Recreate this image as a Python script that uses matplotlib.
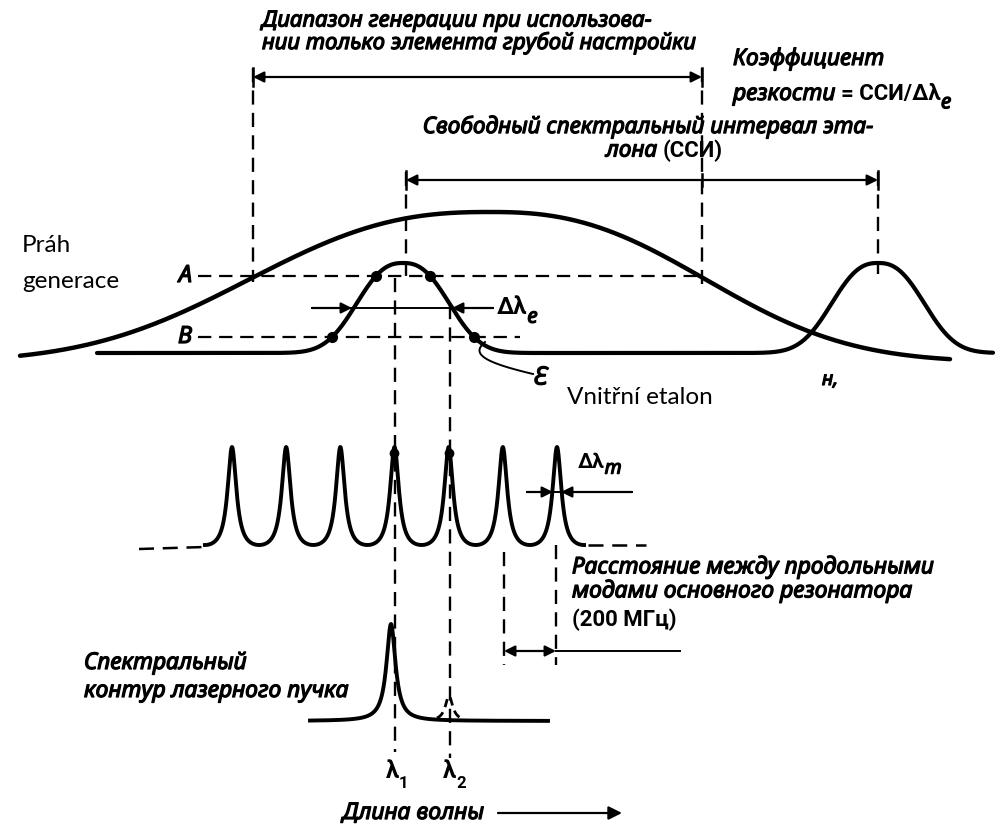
import numpy as np
import matplotlib
matplotlib.use("Agg")
import matplotlib.pyplot as plt
import matplotlib.patheffects as pe

# ---------------- data (diagram units = reference pixels) ----------------
coarse_peak = 490
coarse_top = 212
coarse_base = 362
coarse_widths = [296, 265]          # left / right half-widths of gain envelope
coarse_range = [20, 950]

etalon_peaks = [403, 878]
etalon_top = 263
etalon_base = 353
etalon_width = 57
etalon_range = [97, 993]

mode_positions = [232, 286, 340, 394, 449, 503, 557]
mode_top = 447
mode_base = 545
mode_finesse_F = 10.0

laser_lines = [391, 449]
laser_tops = [624, 696]
laser_base = 721
laser_range = [310, 548]

level_A = 276
level_B = 337

W, H = 1002, 832
fig = plt.figure(figsize=(W / 100, H / 100), dpi=100)
ax = fig.add_axes([0, 0, 1, 1])
ax.set_xlim(0, W)
ax.set_ylim(H, 0)
ax.axis("off")

BOLD = [pe.withStroke(linewidth=0.9, foreground="black")]
RU = dict(family=["Noto Sans", "DejaVu Sans"], style="italic", weight="bold", path_effects=BOLD)
UP = dict(family=["Roboto", "DejaVu Sans"], weight="bold")
CZ = dict(family=["Lato", "DejaVu Sans"])
K = "black"
DASH = (0, (6, 3.5))


def sgauss(x, c, w, p=2.5):
    return np.exp(-(np.abs(x - c) / w) ** p)


# ---------------- broad gain envelope ----------------
xc = np.linspace(*coarse_range, 600)
wc = np.where(xc < coarse_peak, coarse_widths[0], coarse_widths[1])
yc = coarse_base - (coarse_base - coarse_top) * sgauss(xc, coarse_peak, wc)
ax.plot(xc, yc, color=K, lw=3.2, solid_capstyle="round")

# ---------------- etalon transmission ----------------
xe = np.linspace(*etalon_range, 1200)
ye = etalon_base - (etalon_base - etalon_top) * sum(sgauss(xe, c, etalon_width) for c in etalon_peaks)
ax.plot(xe, ye, color=K, lw=3.0, solid_capstyle="round")

# dots where A and B levels cut the central etalon peak
for lev in (level_A, level_B):
    m = (xe > etalon_peaks[0] - 120) & (xe < etalon_peaks[0])
    xl = np.interp(lev, ye[m][::-1], xe[m][::-1])
    m2 = (xe > etalon_peaks[0]) & (xe < etalon_peaks[0] + 120)
    xr = np.interp(lev, ye[m2], xe[m2])
    ax.plot([xl, xr], [lev, lev], "o", color=K, ms=7)

# threshold levels
ax.plot([198, 703], [level_A, level_A], color=K, lw=1.6, ls=DASH)
ax.plot([198, 520], [level_B, level_B], color=K, lw=1.6, ls=DASH)
ax.text(192, level_A, "A", ha="right", va="center", fontsize=17, **RU)
ax.text(192, level_B, "B", ha="right", va="center", fontsize=17, **RU)

# ---------------- longitudinal modes (Airy comb) ----------------
d = np.mean(np.diff(mode_positions))
xm = np.linspace(mode_positions[0] - d / 2, mode_positions[-1] + d / 2, 1500)
T = 1.0 / (1.0 + mode_finesse_F * np.sin(np.pi * (xm - mode_positions[0]) / d) ** 2)
Tmin = 1.0 / (1.0 + mode_finesse_F)
ym = mode_base - (mode_base - mode_top) * (T - Tmin) / (1 - Tmin)
ax.plot(xm, ym, color=K, lw=2.8)
ax.plot([139, mode_positions[0] - d / 2], [549, mode_base + 2], color=K, lw=1.8, ls=DASH)
ax.plot([mode_positions[-1] + d / 2 + 4, 646], [mode_base, mode_base], color=K, lw=1.8, ls=DASH)
for p in mode_positions[3:5]:
    ax.plot([p], [mode_top + 6], marker="o", ms=6, color=K)

# ---------------- output laser spectrum ----------------
xl_ = np.linspace(*laser_range, 800)
yl_ = laser_base - (laser_base - laser_tops[0]) / (1 + ((xl_ - laser_lines[0]) / 5.5) ** 2)
ax.plot(xl_, yl_, color=K, lw=2.8)
xb = np.linspace(laser_lines[1] - 12, laser_lines[1] + 12, 100)
yb = laser_base - (laser_base - laser_tops[1]) / (1 + ((xb - laser_lines[1]) / 4.5) ** 2)
ax.plot(xb, yb, color=K, lw=2.0, ls=(0, (3, 2)))

# ---------------- vertical dashed guides ----------------
guides = [(253, 68, 282), (702, 68, 284), (406, 172, 280), (878, 172, 274),
          (395, 278, 752), (450, 305, 758), (504, 552, 665), (556, 545, 665)]
for x, y0, y1 in guides:
    ax.plot([x, x], [y0, y1], color=K, lw=1.7, ls=DASH)

# ---------------- arrows ----------------
def arrow(x0, y0, x1, y1, style="-|>", lw=1.6, ms=16):
    ax.annotate("", xy=(x1, y1), xytext=(x0, y0),
                arrowprops=dict(arrowstyle=style, color=K, lw=lw, shrinkA=0, shrinkB=0,
                                mutation_scale=ms))

def bar(x, y, h=9):
    ax.plot([x, x], [y - h, y + h], color=K, lw=1.8)

# coarse tuning range
arrow(253, 77, 702, 77, "<|-|>")
bar(253, 77); bar(702, 77)
# free spectral range
arrow(406, 180, 878, 180, "<|-|>")
bar(406, 180); bar(878, 180); bar(702, 180, 6)
# etalon width
ax.plot([312, 493], [308, 308], color=K, lw=1.4)
arrow(312, 308, 352, 308); arrow(493, 308, 452, 308)
# mode width
ax.plot([527, 632], [492, 492], color=K, lw=1.4)
arrow(527, 492, 553, 492); arrow(632, 492, 561, 492)
# mode spacing
arrow(504, 651, 556, 651, "<|-|>")
ax.plot([556, 680], [651, 651], color=K, lw=1.4)
# wavelength axis
arrow(498, 813, 622, 813, ms=20)

# leader for etalon label
t = np.linspace(0, 1, 50)
ax.plot(485 - 12 * np.sin(np.pi * t) + 48 * t ** 2, 342 + 32 * t, color=K, lw=1.4)

# ---------------- text ----------------
def chain(prev, s, size, dy=0.5, **kw):
    return ax.annotate(s, xy=(1, dy), xycoords=prev, va="center", ha="left", fontsize=size, **kw)

ax.text(262, 21, "Диапазон генерации при использова-", fontsize=16, va="center", **RU)
ax.text(262, 43, "нии только элемента грубой настройки", fontsize=16, va="center", **RU)

ax.text(733, 59, "Коэффициент", fontsize=16.5, va="center", **RU)
t1 = ax.text(733, 94, "резкости ", fontsize=16.5, va="center", **RU)
t2 = chain(t1, "= ССИ/Δλ", 16, **UP)
chain(t2, "e", 15, dy=0.1, **RU)

ax.text(648, 127, "Свободный спектральный интервал эта-", fontsize=16.3, ha="center", va="center", **RU)
t3 = ax.text(606, 151, "лона ", fontsize=16.3, va="center", **RU)
chain(t3, "(ССИ)", 16, **UP)

t4 = ax.text(497, 308, "Δλ", fontsize=17, va="center", **UP)
chain(t4, "e", 15, dy=0.1, **RU)
ax.text(534, 378, "Ɛ", fontsize=18, va="center", **RU)

t5 = ax.text(578, 462, "Δλ", fontsize=15, va="center", **UP)
chain(t5, "m", 14, dy=0.15, **RU)

ax.text(572, 567, "Расстояние между продольными", fontsize=16.5, va="center", **RU)
ax.text(572, 591, "модами основного резонатора", fontsize=16.5, va="center", **RU)
ax.text(572, 620, "(200 МГц)", fontsize=16, va="center", **UP)

ax.text(84, 663, "Спектральный", fontsize=16.5, va="center", **RU)
ax.text(84, 691, "контур лазерного пучка", fontsize=16.5, va="center", **RU)

t6 = ax.text(386, 772, "λ", fontsize=17, va="center", **UP)
chain(t6, "1", 12, dy=0.0, **UP)
t7 = ax.text(443, 772, "λ", fontsize=17, va="center", **UP)
chain(t7, "2", 12, dy=0.0, **UP)

ax.text(484, 813, "Длина волны", fontsize=16.5, ha="right", va="center", **RU)
ax.text(822, 380, "н,", fontsize=14, va="center", **RU)

ax.text(22, 246, "Práh", fontsize=17.5, va="center", **CZ)
ax.text(22, 282, "generace", fontsize=17.5, va="center", **CZ)
ax.text(567, 397, "Vnitřní etalon", fontsize=17.5, va="center", **CZ)

fig.savefig("out.png", dpi=100)
